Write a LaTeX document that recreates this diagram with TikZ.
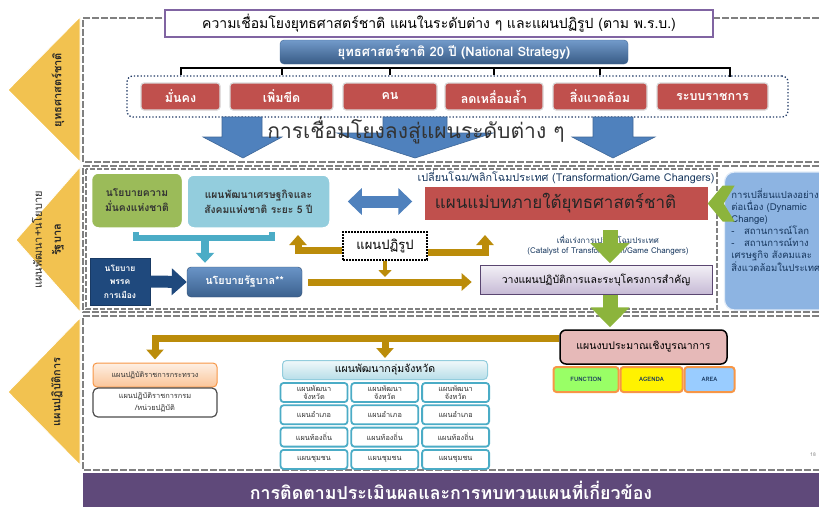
\documentclass[tikz,border=0pt]{standalone}
\usepackage{fontspec}
\setmainfont[Script=Thai]{Loma}
\usetikzlibrary{arrows.meta,positioning,calc}

\definecolor{trigold}{RGB}{242,194,80}
\definecolor{framegray}{RGB}{128,128,128}
\definecolor{titlepurple}{RGB}{128,100,162}
\definecolor{stratred}{RGB}{192,80,77}
\definecolor{dotnavy}{RGB}{31,56,100}
\definecolor{arrowblue}{RGB}{79,129,189}
\definecolor{secgreen}{RGB}{155,187,89}
\definecolor{econblue}{RGB}{147,205,221}
\definecolor{brackteal}{RGB}{75,172,198}
\definecolor{partynavy}{RGB}{31,73,125}
\definecolor{plangold}{RGB}{187,140,10}
\definecolor{dynblue}{RGB}{141,180,226}
\definecolor{arrowgreen}{RGB}{140,180,60}
\definecolor{bandpurple}{RGB}{95,73,122}
\definecolor{budgetpink}{RGB}{230,185,184}
\definecolor{funcgreen}{RGB}{153,255,102}
\definecolor{areablue}{RGB}{153,204,255}
\definecolor{edgeorange}{RGB}{247,150,70}
\definecolor{textnavy}{RGB}{23,55,94}

\begin{document}
\begin{tikzpicture}[x=1pt,
            y=-1pt,
            font=\fontsize{9}{11}\selectfont,
            level/.style={fill=trigold, draw=white, line width=0.8pt},
            leveltext/.style={rotate=90, font=\fontsize{11}{13}\selectfont\bfseries, text=black!85},
            zone/.style={draw=framegray, line width=2.2pt, dash pattern=on 7pt off 2pt},
            innerzone/.style={draw=framegray, line width=1.2pt, dash pattern=on 5pt off 2pt},
            headbox/.style={draw=titlepurple, line width=1.6pt, fill=white, minimum width=548, minimum height=27, font=\fontsize{14}{16}\selectfont},
            nsbox/.style={rounded corners=4pt, top color=arrowblue!80!white, bottom color=arrowblue!70!black, draw=arrowblue!80!black, text=white, minimum width=348, minimum height=24, font=\fontsize{13}{15}\selectfont\bfseries},
            stratbox/.style={rounded corners=3pt, fill=stratred, draw=white!85!black, line width=1.2pt, text=white, minimum height=27, inner sep=1pt, font=\fontsize{12.5}{14}\selectfont\bfseries},
            groupbox/.style={draw=dotnavy, dotted, line width=1.3pt, rounded corners=6pt, minimum width=661, minimum height=41},
            tree/.style={draw=black, line width=2pt},
            bigarrow/.style={fill=arrowblue, draw=arrowblue!80!black, line width=0.6pt},
            linktext/.style={font=\fontsize{21}{24}\selectfont, text=black!80},
            softbox/.style={rounded corners=7pt, draw=white, line width=1.5pt, align=center, text=black!80, font=\fontsize{10.3}{15}\selectfont\bfseries},
            govbox/.style={rounded corners=4pt, top color=arrowblue!85!white, bottom color=arrowblue!75!black, draw=arrowblue!60!black, text=white, minimum width=115, minimum height=30, font=\fontsize{10.8}{12}\selectfont\bfseries},
            partybox/.style={fill=partynavy, draw=partynavy!80!black, text=white, align=center, minimum width=60, minimum height=47, inner sep=1pt, font=\fontsize{8.5}{13.5}\selectfont\bfseries},
            reformbox/.style={draw=black, line width=2pt, dash pattern=on 2pt off 1pt, fill=white, minimum width=84, minimum height=28, font=\fontsize{13}{14}\selectfont},
            masterbox/.style={fill=stratred, minimum width=283, minimum height=33, text=black!85, font=\fontsize{17}{19}\selectfont},
            actionbox/.style={top color=white!90!titlepurple, bottom color=white!55!titlepurple, draw=titlepurple!70!black, line width=0.6pt, minimum width=232, minimum height=29, font=\fontsize{10.5}{12}\selectfont},
            dynbox/.style={rounded corners=10pt, fill=dynblue, draw=white!75!dynblue, line width=1.2pt, minimum width=115, minimum height=138},
            smalltext/.style={text=textnavy, align=center, font=\fontsize{8}{10}\selectfont},
            goldarr/.style={-{Triangle[length=10pt,width=17pt]}, draw=plangold, line width=7pt},
            greenarr/.style={-{Triangle[length=20pt,width=38pt]}, draw=arrowgreen, line width=15pt},
            navyarr/.style={-{Triangle[length=15pt,width=26pt]}, draw=partynavy, line width=12pt},
            tealarr/.style={-{Triangle[length=10pt,width=18pt]}, draw=brackteal, line width=8pt},
            tealline/.style={draw=brackteal, line width=6pt},
            dblarr/.style={{Triangle[length=14pt,width=26pt]}-{Triangle[length=14pt,width=26pt]}, draw=arrowblue, line width=12pt},
            orangebox/.style={rounded corners=4pt, top color=white!85!edgeorange, bottom color=white!45!edgeorange, draw=edgeorange, line width=1pt, minimum width=124, minimum height=24, text=black!80, font=\fontsize{7.3}{9}\selectfont},
            deptbox/.style={rounded corners=5pt, fill=white, draw=black!70, line width=1.2pt, minimum width=124, minimum height=29, align=center, text=black!80, font=\fontsize{7.4}{12}\selectfont},
            clusterbox/.style={rounded corners=4pt, top color=white!92!brackteal, bottom color=white!60!brackteal, draw=brackteal!60, line width=1pt, minimum width=205, minimum height=19, font=\fontsize{10.5}{12}\selectfont},
            cell/.style={rounded corners=3pt, fill=white, draw=brackteal, line width=1.8pt, minimum width=67, minimum height=19, inner sep=0pt, align=center, text=black!80, font=\fontsize{7.3}{8.5}\selectfont},
            budgetbox/.style={rounded corners=6pt, fill=budgetpink, draw=black, line width=1.5pt, minimum width=167, minimum height=34, font=\fontsize{10.5}{12}\selectfont},
            tagbox/.style={rounded corners=3pt, draw=edgeorange, line width=2pt, minimum height=25, inner sep=0pt, text=textnavy, font=\fontsize{6}{7}\selectfont\bfseries},
            band/.style={fill=bandpurple, minimum width=736, minimum height=34, text=white, font=\fontsize{17.8}{20}\selectfont\bfseries}]

        \useasboundingbox (0,0) rectangle (819,507);

        \draw[zone] (819,18) -- (83,18) -- (83,162) -- (819,162);
        \draw[zone] (819,166) -- (83,166) -- (83,312) -- (819,312);
        \draw[zone] (819,316) -- (83,316) -- (83,470) -- (819,470);
        \draw[innerzone] (86,169) rectangle (717,309);

        \filldraw[level] (8,90) -- (80,17) -- (80,162) -- cycle;
        \filldraw[level] (16,240) -- (80,167) -- (80,312) -- cycle;
        \filldraw[level] (8,392) -- (80,318) -- (80,465) -- cycle;
        \node[leveltext]                      (lv1)  at (58,90)  {ยุทธศาสตร์ชาติ};
        \node[leveltext, font=\fontsize{11}{13}\selectfont] (lv2a) at (37,240) {แผนพัฒนา+นโยบาย};
        \node[leveltext]                      (lv2b) at (58,240) {รัฐบาล};
        \node[leveltext]                      (lv3)  at (57,392) {แผนปฏิบัติการ};

        \node[headbox] (title) at (439,23.5) {ความเชื่อมโยงยุทธศาสตร์ชาติ แผนในระดับต่าง ๆ และแผนปฏิรูป (ตาม พ.ร.บ.)};
        \node[nsbox]   (ns)    at (454,52)   {ยุทธศาสตร์ชาติ 20 ปี (National Strategy)};

        \node[groupbox] (group) at (457.5,96.5) {};
        \node[stratbox, minimum width=79]  (s1) at (180.5,96.5) {มั่นคง};
        \node[stratbox, minimum width=103] (s2) at (281.5,96.5) {เพิ่มขีด};
        \node[stratbox, minimum width=94]  (s3) at (390,96.5)   {คน};
        \node[stratbox, minimum width=98]  (s4) at (494,96.5)   {ลดเหลื่อมล้ำ};
        \node[stratbox, minimum width=94]  (s5) at (600,96.5)   {สิ่งแวดล้อม};
        \node[stratbox, minimum width=111] (s6) at (712.5,96.5) {ระบบราชการ};

        \coordinate (t6) at (730,77);
        \draw[tree] (s1.north |- group.north) -- ++(0,-7) -| (t6);
        \draw[tree] (s2.north |- group.north) -- ++(0,-7);
        \draw[tree] (s3.north |- group.north) -- ++(0,-7);
        \draw[tree] (s4.north |- group.north) -- ++(0,-7);
        \draw[tree] (s5.north |- group.north) -- ++(0,-7);

        \draw[bigarrow] (222,117) -- (262,117) -- (262,137) -- (282,137) -- (243,158) -- (203,137) -- (222,137) -- cycle;
        \draw[bigarrow] (383,117) -- (447,117) -- (447,133) -- (493,133) -- (415,158) -- (337,133) -- (383,133) -- cycle;
        \draw[bigarrow] (593,117) -- (633,117) -- (633,137) -- (655,137) -- (613,158) -- (572,137) -- (593,137) -- cycle;
        \node[linktext] (link) at (416,130) {การเชื่อมโยงลงสู่แผนระดับต่าง ๆ};

        \node[softbox, fill=secgreen, minimum width=91, minimum height=55]  (natsec) at (137,200.5)   {นโยบายความ\\มั่นคงแห่งชาติ};
        \node[softbox, fill=econblue, minimum width=143, minimum height=53] (econ)   at (258.5,201.5) {แผนพัฒนาเศรษฐกิจและ\\สังคมแห่งชาติ ระยะ 5 ปี};
        \node[partybox]  (party)  at (120,281.5) {นโยบาย\\พรรค\\การเมือง};
        \node[govbox]    (gov)    at (244.5,282) {นโยบายรัฐบาล**};
        \node[reformbox] (reform) at (385,246)   {แผนปฏิรูป};

        \node[smalltext, font=\fontsize{10.8}{12}\selectfont] (transf) at (566,177) {เปลี่ยนโฉม/พลิกโฉมประเทศ (Transformation/Game Changers)};
        \node[masterbox] (master)   at (566,203.5) {แผนแม่บทภายใต้ยุทธศาสตร์ชาติ\hspace*{21pt}};
        \node[smalltext] (catalyst) at (608,245)   {เพื่อเร่งการเปลี่ยนโฉมประเทศ\\(Catalyst of Transformation/Game Changers)};
        \node[actionbox] (action)   at (596,280)   {วางแผนปฏิบัติการและระบุโครงการสำคัญ};

        \node[dynbox] (dyn) at (782,241) {};
        \node[smalltext, align=left, anchor=north west, font=\fontsize{9.5}{12}\selectfont] (dyntxt) at ([xshift=4pt,yshift=-14pt]dyn.north west)
            {การเปลี่ยนแปลงอย่าง\\ต่อเนื่อง (Dynamic\\Change)\\-\quad สถานการณ์โลก\\-\quad สถานการณ์ทาง\\เศรษฐกิจ สังคมและ\\สิ่งแวดล้อมในประเทศ};
        \fill[arrowgreen] (master.east) -- ++(15,-18) -- ++(12,0) -- ++(-11,18) -- ++(11,18) -- ++(-12,0) -- cycle;

        \coordinate (b1) at (136,232);
        \coordinate (b2) at (272,232);
        \coordinate (b3) at (205,238);
        \draw[tealline] (b1) -- ++(0,6) -| (b2);
        \draw[tealarr, shorten >=4pt] (b3) -- (b3 |- gov.north);
        \draw[navyarr] (party.east) -- (gov.west);
        \draw[dblarr, shorten <=17pt, shorten >=12pt] (econ.east) -- (econ.east -| master.west);

        \coordinate (up1) at (298,235);
        \coordinate (up2) at (485,235);
        \draw[goldarr] ([yshift=-4pt]reform.west) -| (up1);
        \draw[goldarr] ([yshift=-6pt]reform.east) -| (up2);
        \draw[goldarr, -{Triangle[length=7pt,width=13pt]}, line width=4pt] (reform.south) -- ++(0,16);
        \draw[goldarr] ([xshift=6pt]gov.east) -- ($(gov.east -| action.west)+(-8,0)$);

        \node[budgetbox] (budget) at (643.5,347) {แผนงบประมาณเชิงบูรณาการ};
        \node[tagbox, fill=funcgreen, minimum width=65] (func)   at (586,379.5) {FUNCTION};
        \node[tagbox, fill=yellow,    minimum width=62] (agenda) [right=0pt of func]   {AGENDA};
        \node[tagbox, fill=areablue,  minimum width=50] (area)   [right=0pt of agenda] {AREA};

        \coordinate (gx) at (610,0);
        \draw[greenarr, shorten <=10pt, shorten >=2pt] (gx |- master.south) -- (gx |- action.north);
        \draw[greenarr, shorten >=2pt] (gx |- action.south) -- (gx |- budget.north);

        \node[orangebox]  (ministry) at (155,375)   {แผนปฏิบัติราชการกระทรวง};
        \node[deptbox]    (dept)     at (155,402.5) {แผนปฏิบัติราชการกรม\\/หน่วยปฏิบัติ};
        \node[clusterbox] (cluster)  at (385,370)   {แผนพัฒนากลุ่มจังหวัด};

        \node[cell] (pa1) at (314,392.5)          {แผนพัฒนา\\จังหวัด};
        \node[cell] (pa2) [right=2pt of pa1]      {แผนพัฒนา\\จังหวัด};
        \node[cell] (pa3) [right=2pt of pa2]      {แผนพัฒนา\\จังหวัด};
        \node[cell] (pb1) [below=1.5pt of pa1]    {แผนอำเภอ};
        \node[cell] (pb2) [right=2pt of pb1]      {แผนอำเภอ};
        \node[cell] (pb3) [right=2pt of pb2]      {แผนอำเภอ};
        \node[cell] (pc1) [below=1.5pt of pb1]    {แผนท้องถิ่น};
        \node[cell] (pc2) [right=2pt of pc1]      {แผนท้องถิ่น};
        \node[cell] (pc3) [right=2pt of pc2]      {แผนท้องถิ่น};
        \node[cell] (pd1) [below=1.5pt of pc1]    {แผนชุมชน};
        \node[cell] (pd2) [right=2pt of pd1]      {แผนชุมชน};
        \node[cell] (pd3) [right=2pt of pd2]      {แผนชุมชน};

        \coordinate (bar2) at ([yshift=9pt]budget.west);
        \draw[goldarr, shorten >=3pt] (bar2) -| (ministry.north);
        \draw[goldarr, shorten >=2pt] (cluster.north |- bar2) -- (cluster.north);

        \node[text=black!50, font=\fontsize{5}{6}\selectfont] (page) at (813,455) {18};
        \node[band] (review) at (451,490) {การติดตามประเมินผลและการทบทวนแผนที่เกี่ยวข้อง};

    \end{tikzpicture}
\end{document}
